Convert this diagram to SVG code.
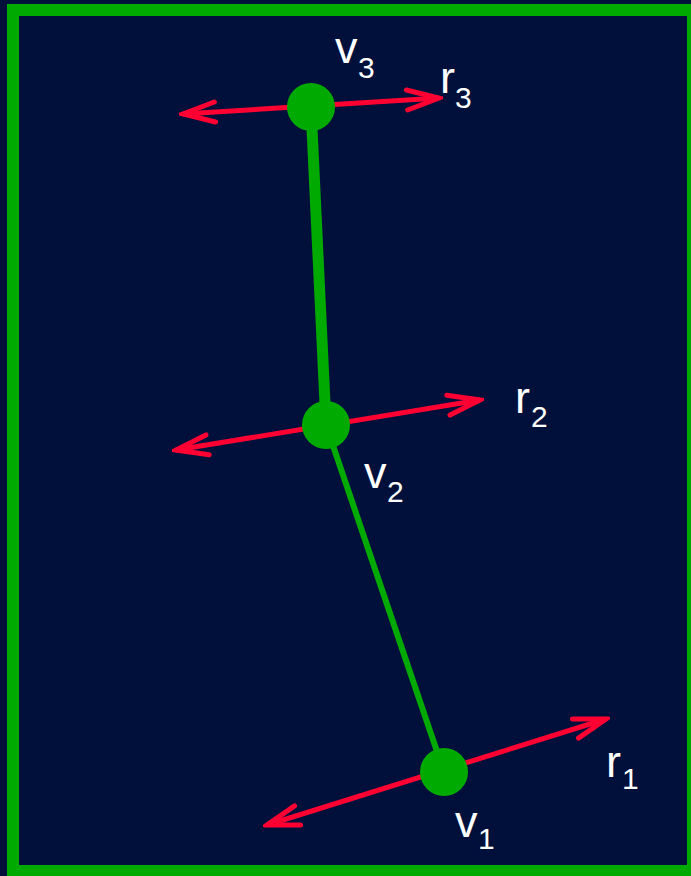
<svg xmlns="http://www.w3.org/2000/svg" width="691" height="876" viewBox="0 0 691 876">
<defs>
<style>
.bg{fill:#00103a}
.frame{fill:none;stroke:#00aa00;stroke-width:12}
.edge{stroke:#00aa00;fill:none}
.arrow{stroke:#ff0033;stroke-width:5;fill:none;marker-start:url(#head);marker-end:url(#head)}
.node{fill:#00aa00}
.lbl{font-family:"Liberation Sans",Arial,sans-serif;fill:#ffffff;font-size:45px}
.sub{font-size:30px}
</style>
<marker id="head" markerUnits="userSpaceOnUse" viewBox="-40 -16 44 32" markerWidth="44" markerHeight="32" refX="0" refY="0" orient="auto-start-reverse">
<path d="M-32,-10 L0,0 L-32,10" fill="none" stroke="#ff0033" stroke-width="5" stroke-linecap="round" stroke-linejoin="miter"/>
</marker>
</defs>
<rect class="bg" x="0" y="0" width="691" height="876"/>
<rect class="frame" x="13" y="10" width="680" height="861"/>
<g id="connectors">
<line class="edge" x1="311" y1="107" x2="326" y2="425" stroke-width="11"/>
<line class="edge" x1="326" y1="425" x2="444" y2="772" stroke-width="6"/>
<line class="arrow" x1="183" y1="114" x2="439" y2="98"/>
<line class="arrow" x1="176" y1="450" x2="480" y2="400"/>
<line class="arrow" x1="267" y1="825" x2="606" y2="719"/>
</g>
<g id="v3">
<circle class="node" cx="311" cy="107" r="24"/>
<text class="lbl" x="335" y="63">v<tspan class="sub" x="358" y="78">3</tspan></text>
<text class="lbl" x="440" y="93">r<tspan class="sub" x="455" y="108">3</tspan></text>
</g>
<g id="v2">
<circle class="node" cx="326" cy="425" r="24"/>
<text class="lbl" x="364" y="488">v<tspan class="sub" x="387" y="502">2</tspan></text>
<text class="lbl" x="515" y="413">r<tspan class="sub" x="531" y="427">2</tspan></text>
</g>
<g id="v1">
<circle class="node" cx="444" cy="772" r="24"/>
<text class="lbl" x="455" y="837">v<tspan class="sub" x="478" y="849">1</tspan></text>
<text class="lbl" x="606" y="777">r<tspan class="sub" x="622" y="789">1</tspan></text>
</g>
</svg>
